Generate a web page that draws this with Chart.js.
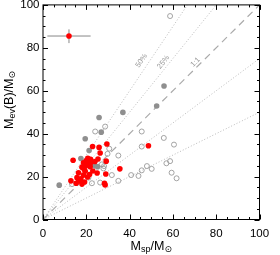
<!DOCTYPE html>
<html>
<head>
<meta charset="utf-8">
<script src="https://cdn.jsdelivr.net/npm/chart.js@4"></script>
<style>
  html, body { margin: 0; padding: 0; background: #fff; }
  #wrap { width: 280px; height: 255px; position: relative; }
</style>
</head>
<body>
<div id="wrap"><canvas id="chart" width="280" height="255"></canvas></div>
<script>
  // Axis ticks
  const xTicks = [0, 20, 40, 60, 80, 100];
  const yTicks = [0, 20, 40, 60, 80, 100];

  // Red filled points (M_sp, M_ev)
  const redX = [29.5, 25.9, 22.9, 26.4, 13.9, 20.7, 22.0, 25.4, 29.2, 18.7, 20.3, 18.0, 21.8, 19.0, 35.5,
                16.4, 25.0, 29.0, 18.7, 20.6, 15.7, 12.9, 17.2, 19.2, 15.3, 18.0, 28.4, 28.7, 23.0, 48.7,
                19.5, 21.5, 17.5, 16.5, 22.0, 19.8, 24.0, 20.0];
  const redY = [35.2, 33.6, 34.0, 31.0, 27.6, 28.5, 28.0, 28.2, 27.2, 26.4, 25.7, 24.4, 24.6, 23.4, 23.6,
                21.8, 21.7, 21.2, 20.7, 19.8, 19.5, 18.0, 18.0, 17.5, 16.9, 16.5, 16.9, 16.1, 22.6, 34.4,
                22.5, 21.0, 19.0, 18.5, 26.5, 25.0, 27.0, 27.5];

  // Grey filled points
  const greyX = [25.9, 36.9, 26.9, 19.5, 21.3, 17.5, 23.8, 25.2, 7.5, 55.9, 52.5];
  const greyY = [47.5, 49.9, 40.7, 37.6, 32.1, 28.4, 25.3, 24.6, 16.0, 62.2, 52.9];

  // Grey open points
  const openX = [58.7, 28.7, 24.1, 45.6, 55.8, 60.5, 45.6, 30.6, 29.8, 34.8, 28.2, 27.2, 31.8, 34.8,
                 26.4, 22.6, 21.0, 13.4, 40.7, 44.1, 48.0, 50.2, 45.6, 57.0, 58.7, 59.4, 61.7, 27.9];
  const openY = [94.8, 43.3, 41.0, 41.0, 38.0, 34.9, 34.0, 33.0, 30.6, 29.8, 24.9, 25.7, 20.7, 18.0,
                 17.2, 16.9, 19.5, 16.5, 20.7, 20.3, 24.9, 23.6, 22.9, 26.2, 27.2, 21.8, 19.2, 23.8];

  // Single point with error bars
  const errPoint = [12.0, 85.5];
  const errXRange = [2.0, 22.0];
  const errYRange = [82.2, 88.6];

  // Reference lines (end points)
  const line50up = [[0, 0], [66.7, 100]];
  const line25up = [[0, 0], [80, 100]];
  const line11 = [[0, 0], [100, 100]];
  const line25dn = [[0, 0], [100, 75]];
  const line50dn = [[0, 0], [100, 50]];

  // Line labels: text, anchor (data coords), angle (deg)
  const lineLabels = ['50%', '25%', '1:1'];
  const lineLabelPos = [[45.5, 74.0], [55.6, 73.3], [70.4, 73.3]];
  const lineLabelAngle = [56, 51, 45];

  const FONT = "'Liberation Sans', 'DejaVu Sans', Arial, sans-serif";

  function pts(xs, ys) {
    return xs.map((x, i) => ({ x: x, y: ys[i] }));
  }
  function seg(p) {
    return p.map(q => ({ x: q[0], y: q[1] }));
  }

  function refLine(data, dash, color, width) {
    return {
      type: 'line',
      data: seg(data),
      showLine: true,
      borderColor: color,
      borderWidth: width,
      borderDash: dash,
      pointRadius: 0,
      fill: false,
      order: 5
    };
  }

  // Draws frame, inside tick marks, axis titles and line labels
  const decorPlugin = {
    id: 'decor',
    afterDatasetsDraw(chart) {
      const ctx = chart.ctx;
      const a = chart.chartArea;
      const xs = chart.scales.x;
      const ys = chart.scales.y;

      ctx.save();
      ctx.strokeStyle = '#000';
      ctx.lineWidth = 1;
      ctx.strokeRect(a.left, a.top, a.right - a.left, a.bottom - a.top);

      ctx.beginPath();
      for (let v = 0; v <= 100; v += 5) {
        const len = v % 20 === 0 ? 5 : 2.5;
        const px = Math.round(xs.getPixelForValue(v)) + 0.5;
        ctx.moveTo(px, a.bottom); ctx.lineTo(px, a.bottom - len);
        ctx.moveTo(px, a.top); ctx.lineTo(px, a.top + len);
        const py = Math.round(ys.getPixelForValue(v)) + 0.5;
        ctx.moveTo(a.left, py); ctx.lineTo(a.left + len, py);
        ctx.moveTo(a.right, py); ctx.lineTo(a.right - len, py);
      }
      ctx.stroke();

      // line labels
      ctx.fillStyle = '#999';
      ctx.font = '7.5px ' + FONT;
      ctx.textAlign = 'center';
      ctx.textBaseline = 'middle';
      lineLabels.forEach((t, i) => {
        const px = xs.getPixelForValue(lineLabelPos[i][0]);
        const py = ys.getPixelForValue(lineLabelPos[i][1]);
        ctx.save();
        ctx.translate(px, py);
        ctx.rotate(-lineLabelAngle[i] * Math.PI / 180);
        ctx.fillText(t, 0, 0);
        ctx.restore();
      });

      // axis titles
      ctx.fillStyle = '#000';
      ctx.textBaseline = 'alphabetic';
      drawRuns(ctx, [['M', 0], ['sp', 1], ['/M', 0], ['\u2299', 1]], (a.left + a.right) / 2, 249.5, 0);
      drawRuns(ctx, [['M', 0], ['ev', 1], ['(B)/M', 0], ['\u2299', 1]], 12.5, 100, -Math.PI / 2);
      ctx.restore();
    }
  };

  function drawRuns(ctx, runs, cx, cy, rot) {
    const big = '12.5px ' + FONT;
    const small = '9px ' + FONT;
    let total = 0;
    const widths = runs.map(r => {
      ctx.font = r[1] ? small : big;
      const w = ctx.measureText(r[0]).width;
      total += w;
      return w;
    });
    ctx.save();
    ctx.translate(cx, cy);
    ctx.rotate(rot);
    ctx.textAlign = 'left';
    let x = -total / 2;
    runs.forEach((r, i) => {
      ctx.font = r[1] ? small : big;
      ctx.fillText(r[0], x, r[1] ? 2.5 : 0);
      x += widths[i];
    });
    ctx.restore();
  }

  new Chart(document.getElementById('chart'), {
    type: 'scatter',
    data: {
      datasets: [
        {
          data: [{ x: errPoint[0], y: errPoint[1] }],
          backgroundColor: '#ff0000',
          borderWidth: 0,
          pointRadius: 2.8,
          order: 0
        },
        {
          type: 'line',
          data: [{ x: errXRange[0], y: errPoint[1] }, { x: errXRange[1], y: errPoint[1] }],
          showLine: true, borderColor: '#888', borderWidth: 1, pointRadius: 0, order: 1
        },
        {
          type: 'line',
          data: [{ x: errPoint[0], y: errYRange[0] }, { x: errPoint[0], y: errYRange[1] }],
          showLine: true, borderColor: '#888', borderWidth: 1, pointRadius: 0, order: 1
        },
        {
          data: pts(redX, redY),
          backgroundColor: '#ff0000',
          borderWidth: 0,
          pointRadius: 2.8,
          order: 2
        },
        {
          data: pts(greyX, greyY),
          backgroundColor: '#8f8f8f',
          borderWidth: 0,
          pointRadius: 2.8,
          order: 3
        },
        {
          data: pts(openX, openY),
          backgroundColor: 'rgba(255,255,255,0)',
          borderColor: '#9a9a9a',
          borderWidth: 0.9,
          pointRadius: 2.5,
          order: 4
        },
        refLine(line50up, [1, 2], '#aaa', 0.8),
        refLine(line25up, [1, 2], '#aaa', 0.8),
        refLine(line11, [7, 5], '#aaa', 1.2),
        refLine(line25dn, [1, 2], '#aaa', 0.8),
        refLine(line50dn, [1, 2], '#aaa', 0.8)
      ]
    },
    options: {
      responsive: false,
      animation: false,
      events: [],
      layout: { padding: { left: 0, right: 20.5, top: 1, bottom: 0 } },
      plugins: { legend: { display: false }, tooltip: { enabled: false } },
      scales: {
        x: {
          type: 'linear',
          min: 0, max: 100,
          afterBuildTicks: s => { s.ticks = xTicks.map(v => ({ value: v })); },
          afterFit: s => { s.height = 35.5; s.paddingLeft = 0; s.paddingRight = 0; },
          grid: { display: false, drawTicks: false, tickLength: 0 },
          border: { display: false },
          ticks: { color: '#000', padding: 7, maxRotation: 0, font: { family: FONT, size: 11.5 } }
        },
        y: {
          type: 'linear',
          min: 0, max: 100,
          afterBuildTicks: s => { s.ticks = yTicks.map(v => ({ value: v })); },
          afterFit: s => { s.width = 43; s.paddingTop = 0; s.paddingBottom = 0; },
          grid: { display: false, drawTicks: false, tickLength: 0 },
          border: { display: false },
          ticks: { color: '#000', padding: 3.5, font: { family: FONT, size: 11.5 } }
        }
      }
    },
    plugins: [decorPlugin]
  });
</script>
</body>
</html>
